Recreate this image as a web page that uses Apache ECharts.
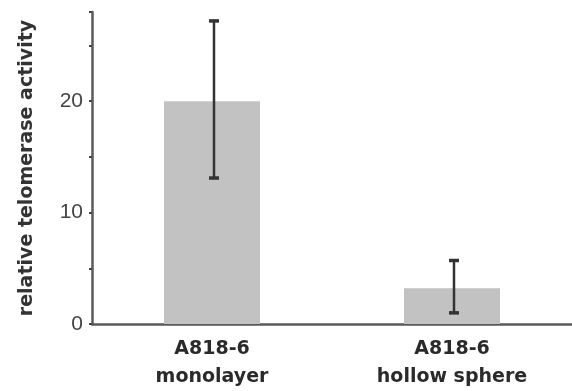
<!DOCTYPE html>
<html><head><meta charset="utf-8">
<script src="https://cdn.jsdelivr.net/npm/echarts@6/dist/echarts.min.js"></script>
<style>html,body{margin:0;padding:0;background:#fff}#c{width:572px;height:391px}</style>
</head><body><div id="c"></div>
<script>
const categories = ['A818-6\nmonolayer', 'A818-6\nhollow sphere'];
const values = [20, 3.2];
const errLow = [13.1, 1.0];
const errHigh = [27.2, 5.7];
const yTicks = [0, 10, 20];

const chart = echarts.init(document.getElementById('c'));
chart.setOption({
  animation: false,
  grid: { left: 92, top: 12, width: 484, bottom: 63, containLabel: false },
  xAxis: {
    type: 'category', data: categories,
    axisLine: { lineStyle: { color: '#5a5a5a', width: 2.5 } },
    axisTick: { show: false },
    axisLabel: { color: '#2a2a2a', fontFamily: 'DejaVu Sans', fontWeight: 'bold', fontSize: 19, lineHeight: 28, margin: 11 }
  },
  yAxis: {
    type: 'value', min: 0, max: 28, interval: 5,
    name: 'relative telomerase activity', nameLocation: 'middle', nameGap: 55,
    nameTextStyle: { color: '#333', fontFamily: 'DejaVu Sans', fontWeight: 'bold', fontSize: 19 },
    axisLine: { show: true, lineStyle: { color: '#5a5a5a', width: 2.5 } },
    axisTick: { show: true, length: 3, lineStyle: { color: '#444', width: 2 } },
    splitLine: { show: false },
    axisLabel: { color: '#444', fontFamily: 'Liberation Sans, Arial', fontSize: 21, margin: 9,
      formatter: v => yTicks.includes(v) ? String(v) : '' }
  },
  series: [
    { type: 'bar', data: values, barWidth: 96, itemStyle: { color: '#c2c2c2' } },
    { type: 'custom', z: 10,
      data: values.map((v, i) => [i, errLow[i], errHigh[i]]),
      renderItem: function (params, api) {
        const x = api.value(0);
        const lo = api.coord([x, api.value(1)]);
        const hi = api.coord([x, api.value(2)]);
        const cx = lo[0] + 2, hw = 5;
        const st = { stroke: '#333', lineWidth: 2.5 };
        return { type: 'group', children: [
          { type: 'line', shape: { x1: cx, y1: hi[1], x2: cx, y2: lo[1] }, style: st },
          { type: 'line', shape: { x1: cx - hw, y1: hi[1], x2: cx + hw, y2: hi[1] }, style: { stroke: '#333', lineWidth: 3.5 } },
          { type: 'line', shape: { x1: cx - hw, y1: lo[1], x2: cx + hw, y2: lo[1] }, style: { stroke: '#333', lineWidth: 3.5 } }
        ]};
      }
    }
  ]
});
</script></body></html>
